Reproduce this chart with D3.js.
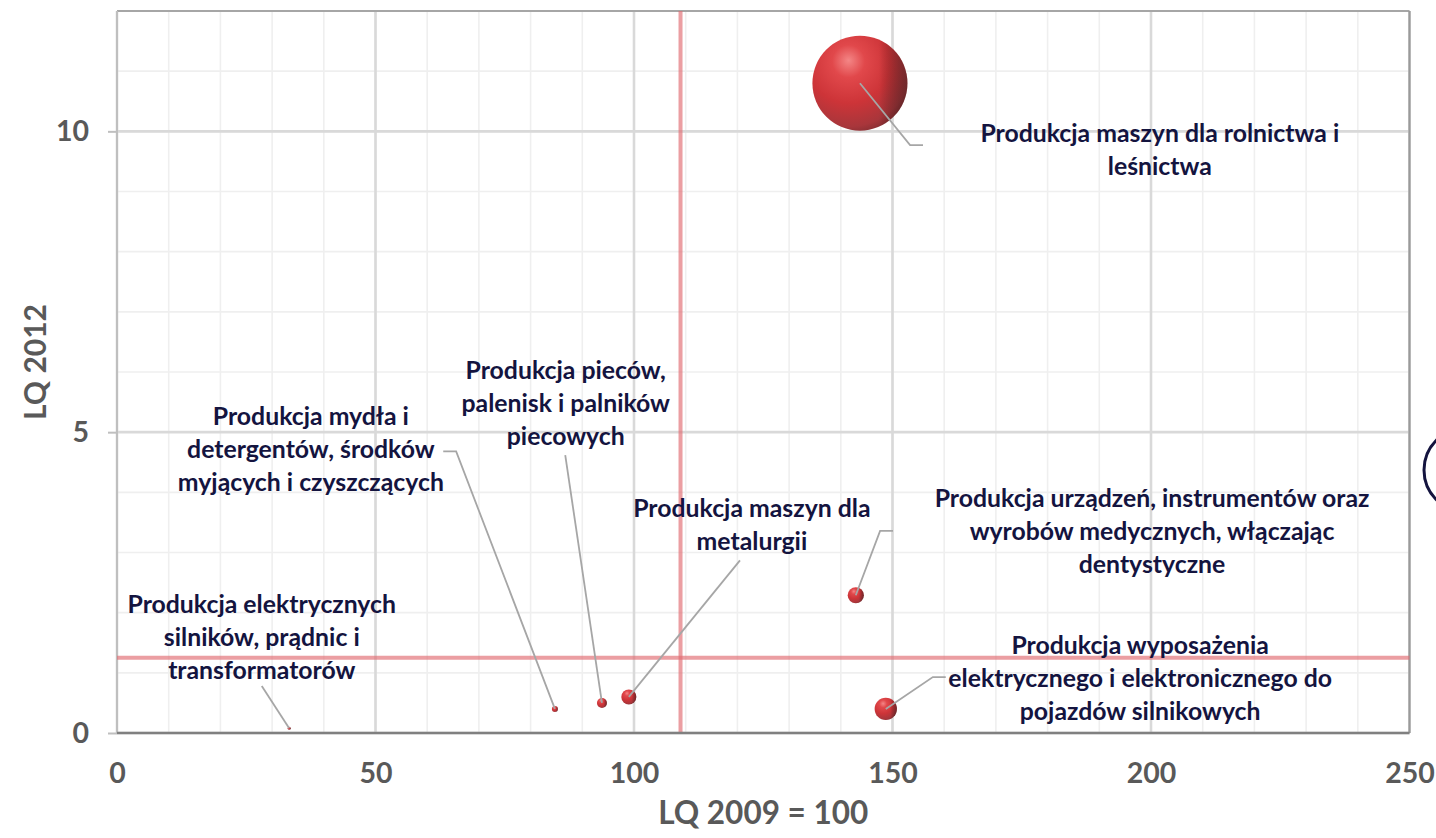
<!DOCTYPE html>
<html><head><meta charset="utf-8">
<script src="https://cdn.jsdelivr.net/npm/d3@7"></script>
<style>
html,body{margin:0;padding:0;background:#fff;}
svg{display:block;font-family:Lato,"Open Sans",sans-serif;}
</style></head>
<body><svg id="c" width="1436" height="838"></svg>
<script>
// ---- data ----
const names = [
  ["Produkcja maszyn dla rolnictwa i","leśnictwa"],
  ["Produkcja urządzeń, instrumentów oraz","wyrobów medycznych, włączając","dentystyczne"],
  ["Produkcja wyposażenia","elektrycznego i elektronicznego do","pojazdów silnikowych"],
  ["Produkcja maszyn dla","metalurgii"],
  ["Produkcja pieców,","palenisk i palników","piecowych"],
  ["Produkcja mydła i","detergentów, środków","myjących i czyszczących"],
  ["Produkcja elektrycznych","silników, prądnic i","transformatorów"]
];
const lq2009 = [143.7, 142.9, 148.7, 99.0, 93.8, 84.7, 33.3];
const lq2012 = [10.8, 2.29, 0.40, 0.60, 0.50, 0.40, 0.08];
const bubbleSize = [100, 2.9, 5.5, 2.5, 1.1, 0.4, 0.1];
const refX = 109, refY = 1.25;
const xTicks = [0, 50, 100, 150, 200, 250];
const yTicks = [0, 5, 10];
const xMinor = d3.range(0, 251, 10);
const yMinor = d3.range(0, 13, 1);
const xTitle = "LQ 2009 = 100", yTitle = "LQ 2012";
// label placement (data units): text centre x, first-line centre y, leader elbow, leader end
const labelPos = [
  {x:201.7, y:9.97, elbow:[153.4,9.77], end:[155.9,9.77]},
  {x:200.2, y:3.90, elbow:[147.6,3.36], end:[150.1,3.36]},
  {x:197.9, y:1.46, elbow:[157.8,0.93], end:[160.3,0.93]},
  {x:122.8, y:3.74, elbow:[120.5,2.87], end:[120.5,2.87]},
  {x:86.8,  y:6.03, elbow:[86.7,4.62],  end:[86.7,4.62]},
  {x:37.5,  y:5.27, elbow:[65.6,4.68],  end:[63.1,4.68]},
  {x:28.0,  y:2.14, elbow:[28.0,0.78],  end:[28.0,0.78]}
];

// ---- chart ----
const svg = d3.select("#c");
const L = 117, R = 1409.5, T = 11, B = 733;
const x = d3.scaleLinear().domain([0,250]).range([L,R]);
const y = d3.scaleLinear().domain([0,12]).range([B,T]);
const r = d3.scaleSqrt().domain([0,100]).range([0,47.5]);

const defs = svg.append("defs");
const g1 = defs.append("radialGradient").attr("id","ball").attr("cx","0.38").attr("cy","0.3").attr("r","0.78").attr("fx","0.38").attr("fy","0.26");
[[0,"#f48686"],[0.22,"#e1484b"],[0.55,"#cd3438"],[0.85,"#a8363b"],[1,"#7a2c30"]].forEach(s=>g1.append("stop").attr("offset",s[0]).attr("stop-color",s[1]));
const g2 = defs.append("linearGradient").attr("id","shade").attr("x1","0").attr("x2","1").attr("y1","0").attr("y2","0");
[[0,"#000",0],[0.7,"#000",0],[1,"#2a1a1a",0.45]].forEach(s=>g2.append("stop").attr("offset",s[0]).attr("stop-color",s[1]).attr("stop-opacity",s[2]));

// minor grid
svg.append("g").selectAll("line").data(xMinor).join("line")
  .attr("x1",d=>x(d)).attr("x2",d=>x(d)).attr("y1",T).attr("y2",B)
  .attr("stroke","#efefef").attr("stroke-width",1.6);
svg.append("g").selectAll("line").data(yMinor).join("line")
  .attr("x1",L).attr("x2",R).attr("y1",d=>y(d)).attr("y2",d=>y(d))
  .attr("stroke","#efefef").attr("stroke-width",1.6);
// major grid
svg.append("g").selectAll("line").data(xTicks).join("line")
  .attr("x1",d=>x(d)).attr("x2",d=>x(d)).attr("y1",T).attr("y2",B)
  .attr("stroke","#d9d9d9").attr("stroke-width",2.6);
svg.append("g").selectAll("line").data(yTicks).join("line")
  .attr("x1",L).attr("x2",R).attr("y1",d=>y(d)).attr("y2",d=>y(d))
  .attr("stroke","#d9d9d9").attr("stroke-width",2.6);

// frame
svg.append("line").attr("x1",L).attr("x2",R).attr("y1",T).attr("y2",T).attr("stroke","#a6a6a6").attr("stroke-width",2);
svg.append("line").attr("x1",L).attr("x2",L).attr("y1",T).attr("y2",B).attr("stroke","#bfbfbf").attr("stroke-width",2);
svg.append("line").attr("x1",R).attr("x2",R).attr("y1",T).attr("y2",B).attr("stroke","#9a9a9a").attr("stroke-width",2.2);

// y axis ticks & labels
const yAxis = d3.axisLeft(y).tickValues(yTicks).tickSize(9).tickPadding(19).tickFormat(d3.format("d"));
const ya = svg.append("g").attr("transform",`translate(${L},0)`).call(yAxis);
ya.select(".domain").remove();
ya.selectAll(".tick line").attr("stroke","#bfbfbf").attr("stroke-width",2);
ya.selectAll(".tick text").attr("fill","#595959").attr("font-size",28.5).attr("font-weight",700).attr("font-family","Lato");

const xAxis = d3.axisBottom(x).tickValues(xTicks).tickSize(0).tickPadding(30).tickFormat(d3.format("d"));
const xa = svg.append("g").attr("transform",`translate(0,${B})`).call(xAxis);
xa.select(".domain").remove();
xa.selectAll(".tick text").attr("fill","#595959").attr("font-size",28.5).attr("font-weight",700).attr("font-family","Lato");

// reference lines
svg.append("line").attr("x1",x(refX)).attr("x2",x(refX)).attr("y1",T).attr("y2",B)
  .attr("stroke","#e06a70").attr("stroke-opacity",0.65).attr("stroke-width",4);
svg.append("line").attr("x1",L).attr("x2",R).attr("y1",y(refY)).attr("y2",y(refY))
  .attr("stroke","#e06a70").attr("stroke-opacity",0.65).attr("stroke-width",4);

// bottom axis line
svg.append("line").attr("x1",L).attr("x2",R).attr("y1",B).attr("y2",B).attr("stroke","#808080").attr("stroke-width",2.4);

// bubbles
const idx = d3.range(names.length);
const bg = svg.append("g");
bg.selectAll("circle.b").data(idx).join("circle").attr("class","b")
  .attr("cx",i=>x(lq2009[i])).attr("cy",i=>y(lq2012[i])).attr("r",i=>r(bubbleSize[i]))
  .attr("fill","url(#ball)");
bg.selectAll("circle.s").data(idx).join("circle").attr("class","s")
  .attr("cx",i=>x(lq2009[i])).attr("cy",i=>y(lq2012[i])).attr("r",i=>r(bubbleSize[i]))
  .attr("fill","url(#shade)");

// leader lines
svg.append("g").selectAll("polyline").data(idx).join("polyline")
  .attr("points",i=>[[x(lq2009[i]),y(lq2012[i])],[x(labelPos[i].elbow[0]),y(labelPos[i].elbow[1])],[x(labelPos[i].end[0]),y(labelPos[i].end[1])]].map(p=>p.join(",")).join(" "))
  .attr("fill","none").attr("stroke","#a6a6a6").attr("stroke-width",1.8);

// labels
const lg = svg.append("g");
idx.forEach(i=>{
  const t = lg.append("text").attr("text-anchor","middle").attr("fill","#14143f")
    .attr("font-size",24.8).attr("font-weight",700).attr("font-family","Lato");
  names[i].forEach((ln,k)=>{
    t.append("tspan").attr("x",x(labelPos[i].x)).attr("y",y(labelPos[i].y)+k*33).attr("dy","0.35em").text(ln);
  });
});

// axis titles
svg.append("text").attr("x",(L+R)/2).attr("y",824).attr("text-anchor","middle")
  .attr("fill","#595959").attr("font-size",31.5).attr("font-weight",700).attr("font-family","Lato").text(xTitle);
svg.append("text").attr("transform",`translate(46,362) rotate(-90)`).attr("text-anchor","middle")
  .attr("fill","#595959").attr("font-size",30).attr("font-weight",700).attr("font-family","Lato").text(yTitle);

// partially visible outline at the right edge
svg.append("circle").attr("cx",1466).attr("cy",470).attr("r",42).attr("fill","none").attr("stroke","#14143f").attr("stroke-width",3);
</script></body></html>
